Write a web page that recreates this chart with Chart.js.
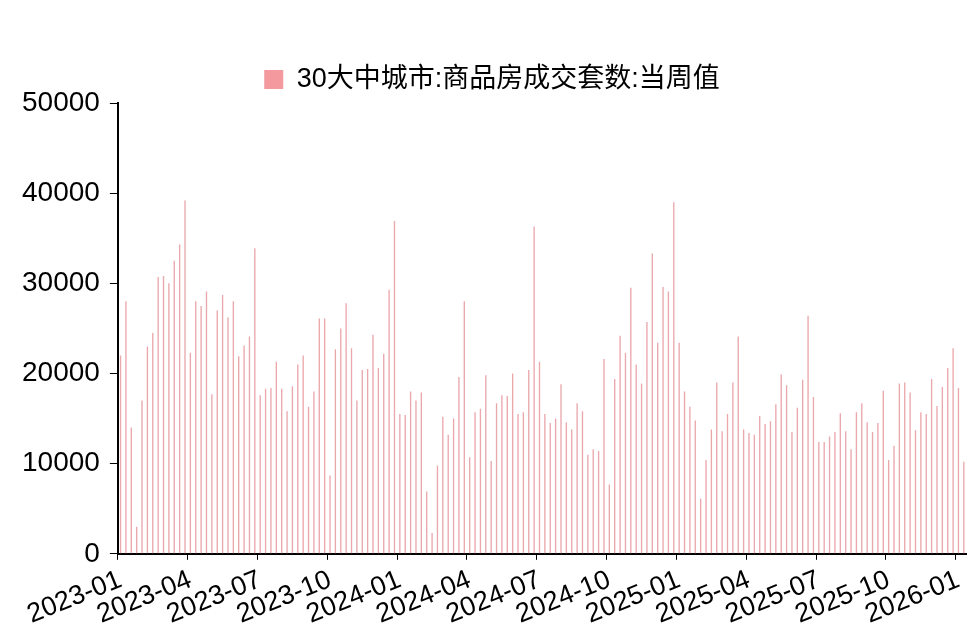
<!DOCTYPE html>
<html>
<head>
<meta charset="utf-8">
<script src="https://cdn.jsdelivr.net/npm/chart.js@4/dist/chart.umd.min.js"></script>
<style>
body{margin:0;background:#fff;}
#wrap{width:980px;height:637px;}
</style>
</head>
<body>
<div id="wrap"><canvas id="c"></canvas></div>
<script>
// 30大中城市 商品房成交套数 周度值
const seriesName = "30大中城市:商品房成交套数:当周值";
const values2023 = [22000,28000,14000,3000,17000,23000,24500,30700,30800,30000,32500,34300,39200,
22300,28000,27500,29100,17700,27000,28700,26200,28000,21900,23100,24100,33900,
17600,18300,18400,21300,18300,15800,18600,21000,22000,16300,18000,26100,26100,
8700,22700,25000,27800,22800,17000,20400,20500,24300,20600,22200,29300,36900];
const values2024 = [15500,15400,18000,17000,17900,6900,2300,9800,15200,13200,15000,19600,28000,
10700,15700,16100,19800,10300,16700,17600,17500,20000,15500,15700,20400,36300,
21300,15500,14500,15000,18800,14600,13800,16700,15800,11000,11600,11400,21600,
7700,19400,24200,22300,29500,21000,18900,25700,33300,23400,29600,29100,39000];
const values2025 = [23400,18000,16300,14800,6100,10400,13800,19000,13600,15500,19000,24100,
13800,13400,13200,15300,14400,14700,16600,19900,18700,13500,16200,19300,26400,
17400,12400,12400,13000,13500,15600,13600,11600,15700,16700,14600,13500,14500,18100,
10400,12000,18900,19000,17900,13700,15700,15500,19400,16400,18500,20600,22800];
const values2026 = [18400,10200];
const values = [...values2023,...values2024,...values2025,...values2026];
const tickMonths = ["01","04","07","10"];

let labels=[];
let d=new Date(Date.UTC(2023,0,6));
values.forEach(()=>{
labels.push(d.toISOString().slice(0,10));
d=new Date(d.getTime()+7*86400000);
});
// first week of each quarter
let shown={};
labels.forEach((l,i)=>{
let ym=l.slice(0,7);
if(tickMonths.includes(l.slice(5,7)) && !(ym in shown)){shown[ym]=i;}
});
const tickIdx=Object.values(shown);

new Chart(document.getElementById("c"),{
type:"bar",
data:{
labels:labels,
datasets:[{
label:seriesName,
data:values,
backgroundColor:"#eaa7ac",
borderColor:"#eaa7ac",
barPercentage:0.25,
categoryPercentage:1
}]
},
options:{
responsive:true,
maintainAspectRatio:false,
animation:false,
layout:{padding:{left:12,right:8,top:36,bottom:2}},
plugins:{
legend:{
labels:{
font:{family:"Liberation Sans, Noto Sans CJK SC",size:27},
color:"#000",
boxWidth:19,boxHeight:19,
padding:30,
generateLabels:()=>[{text:seriesName,fillStyle:"#f4999e",strokeStyle:"#f4999e",lineWidth:0}]
}
},
tooltip:{enabled:false}
},
scales:{
x:{
grid:{drawOnChartArea:false,drawTicks:true,tickLength:6,
color:c=>tickIdx.includes(c.index)?"#000":"rgba(0,0,0,0)"},
border:{color:"#000",width:2},
ticks:{autoSkip:false,maxRotation:22,minRotation:22,color:"#000",padding:4,
font:{family:"Liberation Sans",size:27},
callback:function(v,i){return tickIdx.includes(i)?labels[i].slice(0,7):"";}}
},
y:{
min:0,max:50000,
grid:{drawOnChartArea:false,tickLength:8,color:"#000"},
border:{color:"#000",width:2},
ticks:{stepSize:10000,color:"#000",padding:10,font:{family:"Liberation Sans",size:28},
callback:v=>String(v)}
}
}
}
});
</script>
</body>
</html>
